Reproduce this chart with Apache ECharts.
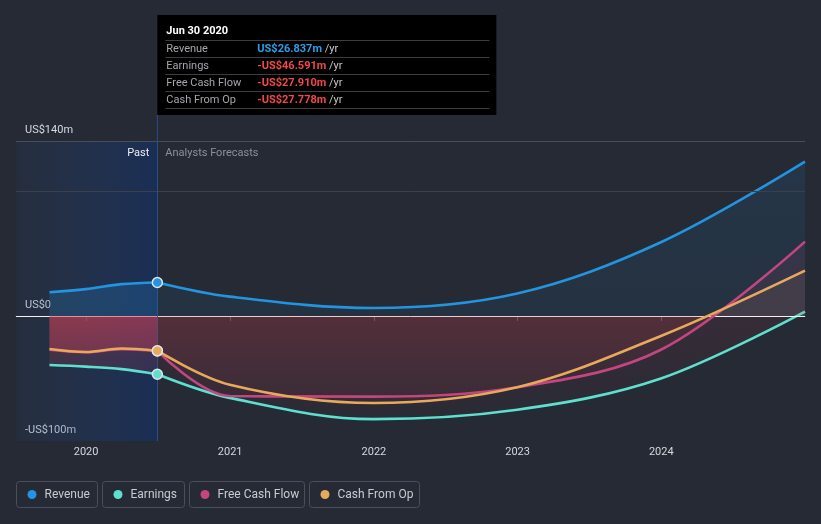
<!DOCTYPE html>
<html><head><meta charset="utf-8">
<script src="https://cdn.jsdelivr.net/npm/echarts@6/dist/echarts.min.js"></script>
<style>html,body{margin:0;padding:0;background:#252a35;}#c{width:821px;height:524px;}</style>
</head><body><div id="c"></div>
<script>
// ---------- data ----------
const pastDates = ['2019-09-30', '2019-12-31', '2020-03-31', '2020-06-30'];
const forecastDates = ['2020-06-30', '2020-12-31', '2021-12-31', '2022-12-31', '2023-12-31', '2024-12-31'];
const revenuePast = [19, 21.5, 25.5, 26.837];
const revenueForecast = [26.837, 15.5, 6.4, 18, 59, 123.5];
const earningsPast = [-39.2, -40.5, -42.5, -46.591];
const earningsForecast = [-46.591, -65.5, -82.5, -75, -50, 3.5];
const fcfPast = [-27, -29, -26.5, -27.910];
const fcfForecast = [-27.910, -64, -64.5, -57, -27, 59.5];
const cfoPast = [-26.4, -28.8, -26, -27.778];
const cfoForecast = [-27.778, -55, -69.6, -57, -16, 36.3];
const seriesNames = ['Revenue', 'Earnings', 'Free Cash Flow', 'Cash From Op'];
const seriesColors = ['#2394df', '#5ee0cf', '#c4457f', '#e8aa5a'];
const yTickLabels = [140, 0, -100];
const gridLineValues = [140, 100];
const xMin = '2019-07-07';
const xMax = '2024-12-31';
const pastEnd = '2020-06-30';
const tooltipTitle = 'Jun 30 2020';
const pastLabel = 'Past';
const forecastLabel = 'Analysts Forecasts';

// ---------- helpers ----------
const FONT = 'Roboto, "Noto Sans", sans-serif';
function rgba(hex, a) {
  const n = parseInt(hex.slice(1), 16);
  return 'rgba(' + ((n >> 16) & 255) + ',' + ((n >> 8) & 255) + ',' + (n & 255) + ',' + a + ')';
}
function fmtAxis(v) {
  if (v === 0) return 'US$0';
  return (v < 0 ? '-' : '') + 'US$' + Math.abs(v) + 'm';
}
function fmtVal(v) {
  return (v < 0 ? '-' : '') + 'US$' + Math.abs(v).toFixed(3) + 'm';
}

const chart = echarts.init(document.getElementById('c'), null, { renderer: 'canvas' });

const baseOption = {
  backgroundColor: '#252a35',
  animation: false,
  textStyle: { fontFamily: FONT },
  grid: { left: 16, right: 16, top: 141, bottom: 83 },
  xAxis: {
    type: 'time', min: xMin, max: xMax,
    minInterval: 365 * 86400000,
    axisLine: { lineStyle: { color: '#5b606b', width: 1 } },
    axisTick: { show: true, length: 5, lineStyle: { color: '#5b606b' } },
    splitLine: { show: false },
    axisLabel: {
      color: '#d5d8dd', fontSize: 11, margin: 6, fontFamily: FONT,
      showMinLabel: false, showMaxLabel: false,
      formatter: v => String(new Date(v).getFullYear())
    }
  },
  yAxis: {
    type: 'value', min: -100, max: 140, interval: 20,
    axisLine: { show: false }, axisTick: { show: false }, splitLine: { show: false },
    axisLabel: {
      inside: true, customValues: yTickLabels, formatter: fmtAxis,
      color: '#d5d8dd', fontSize: 11, margin: 9, fontFamily: FONT,
      verticalAlign: 'bottom', padding: [0, 0, 5, 0]
    }
  },
  series: [{ type: 'line', data: [] }]
};
chart.setOption(baseOption);

const yTop = chart.convertToPixel({ yAxisIndex: 0 }, 140);
const yZero = chart.convertToPixel({ yAxisIndex: 0 }, 0);
const yBot = chart.convertToPixel({ yAxisIndex: 0 }, -100);
const xDiv = chart.convertToPixel({ xAxisIndex: 0 }, +new Date(pastEnd));
const zOff = (yZero - yTop) / (yBot - yTop);

function areaGrad(posColor, posA0, posA1, negColor, negA0, negA1) {
  return {
    type: 'linear', global: true, x: 0, y: yTop, x2: 0, y2: yBot,
    colorStops: [
      { offset: 0, color: rgba(posColor, posA0) },
      { offset: zOff, color: rgba(posColor, posA1) },
      { offset: zOff, color: rgba(negColor, negA0) },
      { offset: 1, color: rgba(negColor, negA1) }
    ]
  };
}

function lineSeries(name, color, dates, vals, areaColor, z, markLast) {
  return {
    type: 'line', name: name, z: z, smooth: 0.35, silent: true,
    symbol: 'circle', symbolSize: 10, showSymbol: true,
    lineStyle: { color: color, width: 2.6 },
    itemStyle: { color: color, borderColor: '#dfe4ea', borderWidth: 1.5 },
    areaStyle: { color: areaColor, origin: 'auto' },
    data: dates.map((d, i) => (markLast && i === dates.length - 1)
      ? { value: [d, vals[i]] }
      : { value: [d, vals[i]], symbol: 'none' })
  };
}

const pastVals = [revenuePast, earningsPast, fcfPast, cfoPast];
const fcVals = [revenueForecast, earningsForecast, fcfForecast, cfoForecast];
const posAlphaFc = [0.16, 0.08, 0.15, 0.10];

const series = [];
// background helper: past shading, grid lines
series.push({
  type: 'line', data: [], z: 1, silent: true,
  markArea: {
    silent: true,
    itemStyle: {
      color: { type: 'linear', x: 0, y: 0, x2: 1, y2: 0,
        colorStops: [{ offset: 0, color: 'rgba(40,75,135,0.10)' }, { offset: 1, color: 'rgba(15,50,115,0.50)' }] }
    },
    data: [[{ xAxis: xMin }, { xAxis: pastEnd }]]
  },
  markLine: {
    silent: true, symbol: 'none', label: { show: false },
    data: gridLineValues.map((v, i) => ({ yAxis: v, lineStyle: { color: i === 0 ? '#474d59' : '#3b414c', width: 1, type: 'solid' } }))
  }
});
// forecast series
for (let i = 0; i < 4; i++) {
  const c = seriesColors[i];
  const grad = i === 0
    ? areaGrad(c, 0.17, 0.10, c, 0, 0)
    : areaGrad(c, posAlphaFc[i], posAlphaFc[i], '#c83c46', 0.15, 0.02);
  series.push(lineSeries(seriesNames[i], c, forecastDates, fcVals[i], grad, 3 + i, false));
}
// zero line + divider
series.push({
  type: 'line', data: [], z: 8, silent: true,
  markLine: { silent: true, symbol: 'none', label: { show: false },
    data: [
      { yAxis: 0, lineStyle: { color: '#f3f0f0', width: 1, type: 'solid' } },
      { xAxis: pastEnd, lineStyle: { color: '#2b4f87', width: 1, type: 'solid' } }
    ] }
});
// past series
for (let i = 0; i < 4; i++) {
  const c = seriesColors[i];
  const grad = i === 0
    ? areaGrad(c, 0.32, 0.28, c, 0, 0)
    : areaGrad(c, 0.2, 0.2, '#dc4155', 0.34, 0.0);
  series.push(lineSeries(seriesNames[i], c, pastDates, pastVals[i], grad, 10 + i, true));
}

// ---------- graphics: tooltip box, labels, legend ----------
const graphics = [];
const tipX = xDiv, tipY = 15, tipW = 339, tipH = 100;
graphics.push({ type: 'rect', silent: true, z: 50, shape: { x: tipX, y: tipY, width: tipW, height: tipH }, style: { fill: '#000000' } });
graphics.push({ type: 'line', silent: true, z: 50, shape: { x1: xDiv, y1: tipY + tipH, x2: xDiv, y2: yTop }, style: { stroke: '#2b4f87', lineWidth: 1 } });
graphics.push({ type: 'text', silent: true, z: 51, x: tipX + 9, y: tipY + 16,
  style: { text: tooltipTitle, fill: '#ffffff', font: 'bold 11px ' + FONT, verticalAlign: 'middle' } });
const rowVals = [revenuePast[3], earningsPast[3], fcfPast[3], cfoPast[3]];
for (let r = 0; r < 5; r++) {
  const ly = tipY + 25.5 + r * 17;
  graphics.push({ type: 'line', silent: true, z: 51, shape: { x1: tipX + 8, y1: ly, x2: tipX + 332, y2: ly }, style: { stroke: '#3d3d3d', lineWidth: 1 } });
}
for (let r = 0; r < 4; r++) {
  const cy = tipY + 34 + r * 17;
  const v = rowVals[r];
  graphics.push({ type: 'text', silent: true, z: 51, x: tipX + 9, y: cy,
    style: { text: seriesNames[r], fill: '#a3a6ab', font: '11px ' + FONT, verticalAlign: 'middle' } });
  graphics.push({ type: 'text', silent: true, z: 51, x: tipX + 100, y: cy,
    style: { text: '{v|' + fmtVal(v) + '} {u|/yr}', verticalAlign: 'middle', font: '11px ' + FONT,
      rich: { v: { fill: v < 0 ? '#f0494c' : '#2f9ce8', font: 'bold 11px ' + FONT }, u: { fill: '#c4c6ca', font: '11px ' + FONT } } } });
}
// Past / Analysts Forecasts labels
graphics.push({ type: 'text', silent: true, z: 20, x: xDiv - 8, y: yTop + 12,
  style: { text: pastLabel, fill: '#eceef1', font: '11px ' + FONT, align: 'right', verticalAlign: 'middle' } });
graphics.push({ type: 'text', silent: true, z: 20, x: xDiv + 8, y: yTop + 12,
  style: { text: forecastLabel, fill: '#8c9097', font: '11px ' + FONT, align: 'left', verticalAlign: 'middle' } });
// legend
const legendBoxes = [[16.5, 81], [102.5, 82], [189.5, 115], [309.5, 110]];
for (let i = 0; i < 4; i++) {
  const bx = legendBoxes[i][0], bw = legendBoxes[i][1];
  graphics.push({ type: 'rect', silent: true, z: 20, shape: { x: bx, y: 481.5, width: bw, height: 26, r: 3 },
    style: { fill: 'none', stroke: '#4a505b', lineWidth: 1 } });
  graphics.push({ type: 'circle', silent: true, z: 21, shape: { cx: bx + 15.5, cy: 494.5, r: 4.5 }, style: { fill: seriesColors[i] } });
  graphics.push({ type: 'text', silent: true, z: 21, x: bx + 28, y: 494.5,
    style: { text: seriesNames[i], fill: '#c8cbd0', font: '12px ' + FONT, verticalAlign: 'middle' } });
}

chart.setOption({ series: series, graphic: graphics });
</script>
</body></html>
